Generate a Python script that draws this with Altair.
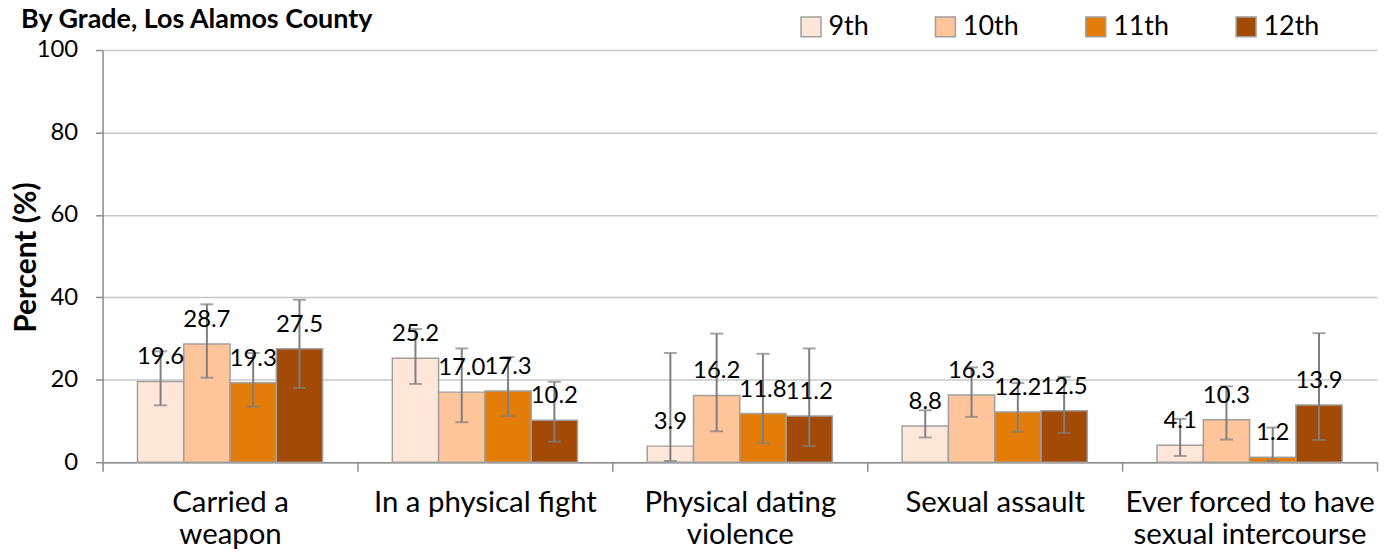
import altair as alt
import pandas as pd

title_text = "By Grade, Los Alamos County"
categories = [
    "Carried a weapon",
    "In a physical fight",
    "Physical dating violence",
    "Sexual assault",
    "Ever forced to have sexual intercourse",
]
label_lines = [
    ["Carried a", "weapon"],
    ["In a physical fight"],
    ["Physical dating", "violence"],
    ["Sexual assault"],
    ["Ever forced to have", "sexual intercourse"],
]
grades = ["9th", "10th", "11th", "12th"]
colors = ["#FEE6D8", "#FEC49A", "#E47C0A", "#A34A06"]

val_9 = [19.6, 25.2, 3.9, 8.8, 4.1]
val_10 = [28.7, 17.0, 16.2, 16.3, 10.3]
val_11 = [19.3, 17.3, 11.8, 12.2, 1.2]
val_12 = [27.5, 10.2, 11.2, 12.5, 13.9]

lo_9 = [13.8, 19.0, 0.3, 6.0, 1.5]
lo_10 = [20.5, 9.7, 7.5, 11.0, 5.5]
lo_11 = [13.5, 11.2, 4.6, 7.4, 0.3]
lo_12 = [18.0, 5.0, 3.9, 7.1, 5.4]

hi_9 = [26.9, 32.3, 26.5, 12.6, 10.5]
hi_10 = [38.3, 27.6, 31.2, 23.0, 18.4]
hi_11 = [26.5, 25.5, 26.3, 19.2, 8.4]
hi_12 = [39.4, 19.5, 27.6, 20.7, 31.3]

y_ticks = [0, 20, 40, 60, 80, 100]

rows = []
for g, vals, los, his in zip(
    grades,
    [val_9, val_10, val_11, val_12],
    [lo_9, lo_10, lo_11, lo_12],
    [hi_9, hi_10, hi_11, hi_12],
):
    for c, v, lo, hi in zip(categories, vals, los, his):
        rows.append(dict(category=c, grade=g, value=v, lo=lo, hi=hi))
df = pd.DataFrame(rows)

FONT = "Lato"
AXIS_GRAY = "#8C8C8C"
GRID_GRAY = "#C8C8C8"
ERR_GRAY = "#7F7F7F"

expr = "''"
for c, lines in reversed(list(zip(categories, label_lines))):
    arr = "[" + ",".join("'" + s + "'" for s in lines) + "]"
    expr = f"datum.value == '{c}' ? {arr} : ({expr})"

x_axis = alt.Axis(
    title=None,
    tickBand="extent",
    tickSize=9,
    tickColor=AXIS_GRAY,
    tickWidth=1.5,
    domainColor=AXIS_GRAY,
    domainWidth=1.5,
    labelFont=FONT,
    labelFontSize=29.5,
    labelColor="black",
    labelAngle=0,
    labelBaseline="alphabetic",
    labelPadding=41,
    labelLineHeight=32,
    labelLimit=400,
    labelExpr=expr,
    grid=False,
)
x_enc = alt.X(
    "category:N",
    sort=categories,
    scale=alt.Scale(paddingInner=0, paddingOuter=0),
    axis=x_axis,
)
xo = alt.XOffset(
    "grade:N", sort=grades, scale=alt.Scale(paddingInner=0, paddingOuter=0.753)
)

y_axis = alt.Axis(
    values=y_ticks,
    title="Percent (%)",
    titleFont=FONT,
    titleFontSize=30,
    titleFontWeight="bold",
    titleColor="black",
    titleX=-76,
    titleY=208,
    titleAngle=270,
    titleBaseline="middle",
    titleAlign="center",
    labelFont=FONT,
    labelFontSize=24,
    labelColor="black",
    labelPadding=18,
    tickSize=7,
    tickColor=AXIS_GRAY,
    tickWidth=1.5,
    domainColor=AXIS_GRAY,
    domainWidth=1.5,
    gridColor=GRID_GRAY,
    gridWidth=1.5,
)
y_scale = alt.Scale(domain=[0, 100])


def yq(field):
    return alt.Y(field, type="quantitative", scale=y_scale, axis=y_axis, title="Percent (%)")


base = alt.Chart(df)

bars = base.mark_bar(stroke="#A0A0A0", strokeWidth=1.5).encode(
    x=x_enc,
    xOffset=xo,
    y=yq("value"),
    color=alt.Color(
        "grade:N",
        sort=grades,
        scale=alt.Scale(domain=grades, range=colors),
        legend=alt.Legend(
            title=None,
            orient="none",
            legendX=698,
            legendY=-37,
            direction="horizontal",
            columns=4,
            gridAlign="each",
            columnPadding=63,
            padding=0,
            symbolType="square",
            symbolSize=400,
            symbolStrokeColor="#A0A0A0",
            symbolStrokeWidth=1.5,
            labelFont=FONT,
            labelFontSize=27,
            labelColor="black",
            labelOffset=4,
        ),
    ),
)

rules = base.mark_rule(color=ERR_GRAY, strokeWidth=2).encode(
    x=x_enc, xOffset=xo, y=yq("lo"), y2="hi:Q"
)
cap_lo = base.mark_tick(color=ERR_GRAY, thickness=2, size=13, orient="horizontal").encode(
    x=x_enc, xOffset=xo, y=yq("lo")
)
cap_hi = base.mark_tick(color=ERR_GRAY, thickness=2, size=13, orient="horizontal").encode(
    x=x_enc, xOffset=xo, y=yq("hi")
)
labels = base.mark_text(
    dy=-17, baseline="alphabetic", font=FONT, fontSize=24, color="black"
).encode(
    x=x_enc, xOffset=xo, y=yq("value"), text=alt.Text("value:Q", format=".1f")
)

title_mark = (
    alt.Chart(pd.DataFrame({"t": [title_text]}))
    .mark_text(
        align="right",
        baseline="alphabetic",
        font=FONT,
        fontSize=27,
        fontWeight="bold",
        color="black",
    )
    .encode(x=alt.value(271), y=alt.value(-22), text="t:N")
)

chart = (
    alt.layer(bars, rules, cap_lo, cap_hi, labels, title_mark)
    .properties(
        width=1280,
        height=414,
        autosize=alt.AutoSizeParams(type="none"),
        padding={"left": 95, "top": 41, "right": 5, "bottom": 88},
    )
    .configure_view(stroke=None)
)

chart.save("out.html", embed_options={"renderer": "svg", "actions": False})
